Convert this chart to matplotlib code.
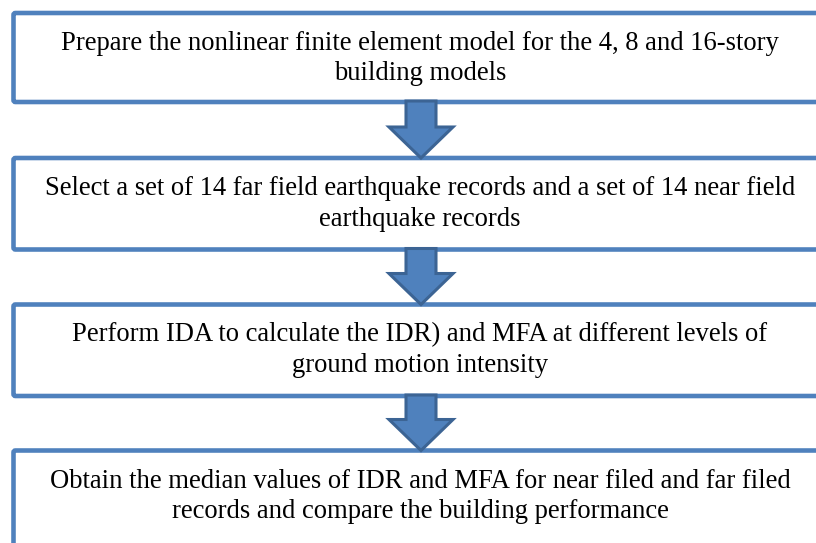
import matplotlib
matplotlib.use("Agg")
import matplotlib.pyplot as plt
from matplotlib.patches import FancyBboxPatch, Polygon

# ---- content ----
step_lines = [
    ["Prepare the nonlinear finite element model for the 4, 8 and 16-story",
     "building models"],
    ["Select a set of 14 far field earthquake records and a set of 14 near field",
     "earthquake records"],
    ["Perform IDA to calculate the IDR) and MFA at different levels of",
     "ground motion intensity"],
    ["Obtain the median values of IDR and MFA for near filed and far filed",
     "records and compare the building performance"],
]

# ---- layout (pixel coordinates, y downwards) ----
W, H = 816, 543
box_left, box_right = 13.5, 828
box_tops = [13, 158, 304.5, 450.5]
box_bottoms = [102, 249.5, 396, 560]
first_baseline_offset = 37
line_gap = 30.5
text_cx = 420

arrow_cx = 421
shaft_half = 15
head_half = 32
head_len = 31

box_color = "#4F81BD"
arrow_edge = "#3C6494"

fig = plt.figure(figsize=(W / 100, H / 100), dpi=100)
ax = fig.add_axes([0, 0, 1, 1])
ax.set_xlim(0, W)
ax.set_ylim(H, 0)
ax.axis("off")

for i, lines in enumerate(step_lines):
    top, bot = box_tops[i], box_bottoms[i]
    box = FancyBboxPatch((box_left, top), box_right - box_left, bot - top,
                         boxstyle="round,pad=0,rounding_size=2",
                         facecolor="white", edgecolor=box_color,
                         linewidth=3.3, zorder=2)
    ax.add_patch(box)
    for j, ln in enumerate(lines):
        ax.text(text_cx, top + first_baseline_offset + j * line_gap, ln,
                ha="center", va="baseline", fontsize=19.2,
                family="Liberation Serif", color="black", zorder=5)

for i in range(len(step_lines) - 1):
    y0 = box_bottoms[i] - 1
    y1 = box_tops[i + 1]
    yh = y1 - head_len
    pts = [(arrow_cx - shaft_half, y0), (arrow_cx + shaft_half, y0),
           (arrow_cx + shaft_half, yh), (arrow_cx + head_half, yh),
           (arrow_cx, y1), (arrow_cx - head_half, yh),
           (arrow_cx - shaft_half, yh)]
    ax.add_patch(Polygon(pts, closed=True, facecolor=box_color,
                         edgecolor=arrow_edge, linewidth=2.2,
                         joinstyle="miter", zorder=4))

fig.savefig("out.png", dpi=100)
